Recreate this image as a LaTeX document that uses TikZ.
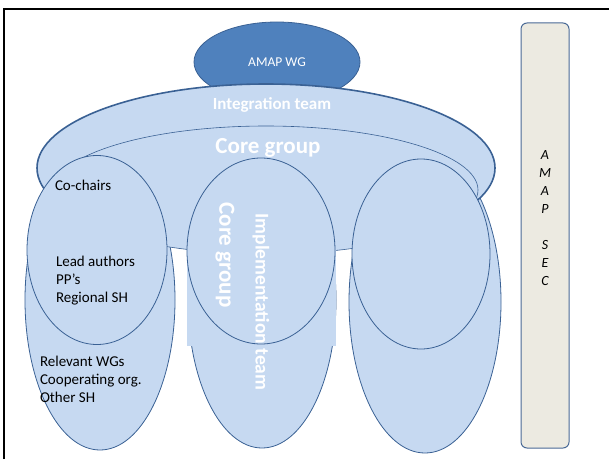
\documentclass[tikz,border=0pt]{standalone}
\usepackage{fontspec}
\setmainfont{Carlito}
\usetikzlibrary{shapes.geometric}
\definecolor{wgblue}{HTML}{4F81BD}
\definecolor{edgeblue}{HTML}{3A6194}
\definecolor{paleblue}{HTML}{C6D9F1}
\definecolor{secfill}{HTML}{ECEAE1}
\definecolor{secedge}{HTML}{4A6A96}

\begin{document}
\begin{tikzpicture}
    [x=1pt, y=1pt,
    every node/.style={inner sep=0pt, outer sep=0pt},
    group/.style={ellipse, draw=edgeblue, fill=paleblue, line width=0.8pt},
    whitelabel/.style={text=white, font=\bfseries},
    members/.style={align=left, anchor=west, font=\fontsize{15}{18}\selectfont}
    ]
    \useasboundingbox (0,0) rectangle (609,459);
    % frame
    \draw [line width=2pt] (4,0) -- (4,449.5) -- (609,449.5);
    % working group on top
    \node (wg) [ellipse, draw=edgeblue, fill=wgblue, line width=0.8pt,
        minimum width=166, minimum height=80, text=white,
        font=\fontsize{13.5}{16}\selectfont] at (277,397) {AMAP WG};
    % lower (long) ellipses
    \node (leftlow) [group, minimum width=150, minimum height=300] at (100,159) {};
    \node (midlow) [group, minimum width=148, minimum height=296] at (262,159) {};
    \node (rightlow) [group, minimum width=152, minimum height=302] at (425,157) {};
    % integration team and core group
    \node (integration) [group, line width=1.6pt,
        minimum width=458, minimum height=168] at (266,291) {};
    \node (core) [group, line width=0.6pt,
        minimum width=424, minimum height=128] at (266,269) {};
    \fill [paleblue] (187,113) rectangle (336,259);
    % upper ellipses
    \node (leftup) [group, minimum width=140, minimum height=189] at (97,209) {};
    \node (midup) [group, minimum width=148, minimum height=186] at (261,208) {};
    \node (rightup) [group, minimum width=138, minimum height=190] at (421,205) {};
    % labels
    \node (intlabel) [whitelabel, font=\bfseries\fontsize{17}{20}\selectfont]
        at (272,354) {Integration team};
    \node (corelabel) [whitelabel, font=\bfseries\fontsize{23}{26}\selectfont]
        at (268,311) {Core group};
    \node (corevert) [whitelabel, rotate=-90, font=\bfseries\fontsize{23}{26}\selectfont]
        at (225,204) {Core group};
    \node (implabel) [whitelabel, rotate=-90, font=\bfseries\fontsize{19.5}{22}\selectfont]
        at (261,157) {Implementation team};
    \node (chairs) [members] at (55,274) {Co-chairs};
    \node (authors) [members] at (56,178) {Lead authors\\PP’s\\Regional SH};
    \node (others) [members] at (40,80) {Relevant WGs\\Cooperating org.\\Other SH};
    % secretariat
    \node (sec) [rectangle, rounded corners=6pt, draw=secedge, fill=secfill,
        line width=1pt, minimum width=48, minimum height=425] at (545,223.5) {};
    \node (seclabel) [align=center, font=\itshape\fontsize{14}{18}\selectfont]
        at (545,241) {A\\M\\A\\P\\[18pt]S\\E\\C};
\end{tikzpicture}
\end{document}
